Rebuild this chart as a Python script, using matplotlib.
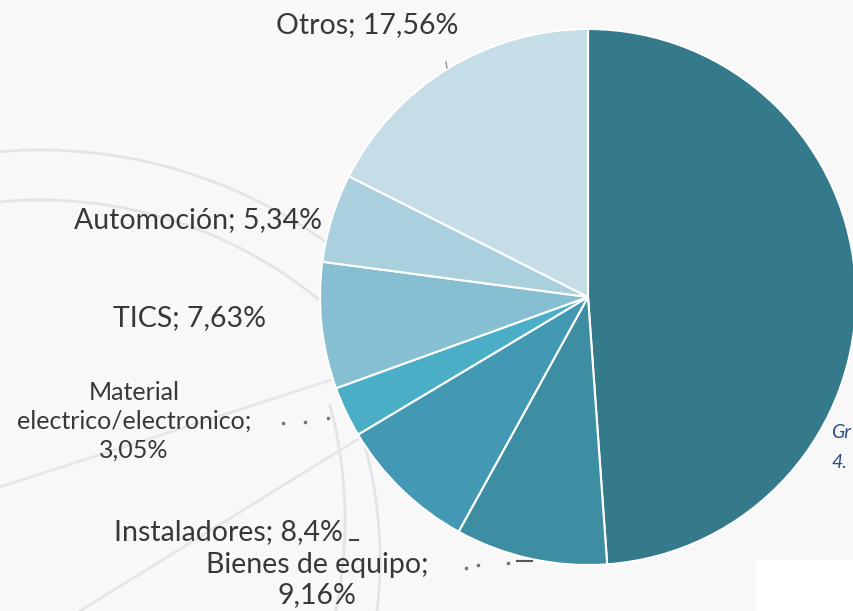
import numpy as np
import matplotlib
matplotlib.use('Agg')
import matplotlib.pyplot as plt
from matplotlib.patches import Rectangle

plt.rcParams['font.family'] = ['Lato', 'DejaVu Sans']

# data (clockwise from 12 o'clock)
sectors = ['Resto', 'Bienes de equipo', 'Instaladores', 'Material\nelectrico/electronico',
           'TICS', 'Automoción', 'Otros']
shares = [48.86, 9.16, 8.4, 3.05, 7.63, 5.34, 17.56]
labels = ['', 'Bienes de equipo;\n9,16%', 'Instaladores; 8,4%', 'Material\nelectrico/electronico;\n3,05%',
          'TICS; 7,63%', 'Automoción; 5,34%', 'Otros; 17,56%']
colors = ['#347a8b', '#3d8da3', '#4399b4', '#4aaec7', '#85bfd1', '#aacfdd', '#c5dde7']

W, H = 854, 611
fig = plt.figure(figsize=(W / 100, H / 100), dpi=100)
fig.patch.set_facecolor('#f8f8f8')
ax = fig.add_axes([0, 0, 1, 1])
ax.set_facecolor('#f8f8f8')

def up(y):
    # picture rows -> y up
    return H - y

# faint background arcs and rays (ghost of the page behind)
for cx, cy, r, a0, a1 in [(40, 640, 490, 54, 96), (40, 640, 440, 50, 97),
                          (-100, 520, 445, -20, 15), (-60, 560, 440, -20, 15)]:
    t = np.radians(np.linspace(a0, a1, 200))
    ax.plot(cx + r * np.cos(t), up(cy - r * np.sin(t)), color='#e4e4e4', lw=2, zorder=0)
for x0, y0 in [(0, 487), (80, 611)]:
    ax.plot([x0, 588], [up(y0), up(297)], color='#e6e6e6', lw=2, zorder=0)

# blank patch at bottom right
ax.add_patch(Rectangle((756, 0), 98, up(560), facecolor='white', edgecolor='none', zorder=0))

ax.pie(shares, colors=colors, startangle=90, counterclock=False,
       center=(588, up(297)), radius=268,
       wedgeprops=dict(edgecolor='white', linewidth=1.5))

# slice labels
tk = dict(fontsize=20.5, color='#383838', ha='center', va='center', linespacing=1.15, zorder=5)
ax.text(367, up(25), labels[6], **tk)
ax.text(198, up(220), labels[5], **tk)
ax.text(190, up(318), labels[4], **tk)
ax.text(134, up(421), labels[3], **{**tk, 'fontsize': 18, 'linespacing': 1.3})
ax.text(228, up(532), labels[2], **tk)
ax.text(317, up(580), labels[1], **tk)

# leader line fragments
ax.plot([283, 305, 328], [up(423), up(422), up(418)], ls='none', marker='s', ms=2, color='#777777')
ax.plot([466, 478, 508], [up(568), up(565), up(563)], ls='none', marker='s', ms=2, color='#777777')
ax.plot([517, 532], [up(561), up(561)], color='#555555', lw=1.5)
ax.plot([350, 358], [up(540), up(540)], color='#444444', lw=1.5)
ax.plot([446, 447], [up(62), up(68)], color='#999999', lw=1)

# caption at the right edge
ax.text(831, up(432), 'Gr', fontsize=14, style='italic', color='#2e4c87', va='center', ha='left')
ax.text(831, up(462), '4.', fontsize=14, style='italic', color='#2e4c87', va='center', ha='left')

ax.set_xlim(0, W)
ax.set_ylim(0, H)
ax.set_aspect('equal')
ax.axis('off')

fig.savefig('out.png', dpi=100, facecolor=fig.get_facecolor())
